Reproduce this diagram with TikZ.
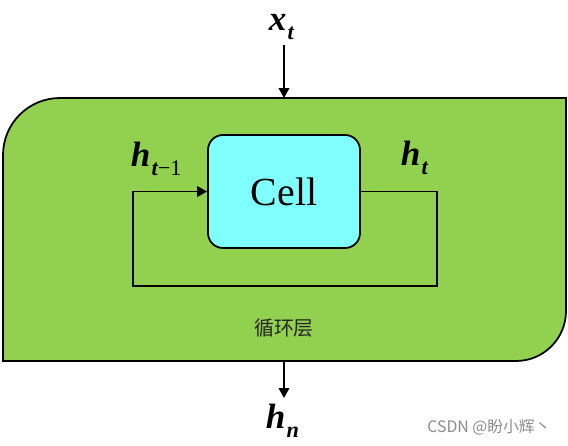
\documentclass[tikz,border=0pt]{standalone}
\usepackage{fontspec}
\setmainfont{Liberation Serif}
\newfontfamily\cjk{Noto Sans CJK SC}
\usetikzlibrary{arrows.meta}
\definecolor{layergreen}{HTML}{92D050}
\definecolor{cellcyan}{HTML}{80FFFF}
\newcommand{\vlab}[2]{{\fontsize{30}{30}\selectfont\bfseries\itshape #1}\hspace{1pt}\raisebox{-8pt}{\fontsize{19}{19}\selectfont #2}}
\begin{document}
\begin{tikzpicture}[x=0.03cm,y=-0.03cm,line width=1.5pt,
    every node/.style={inner sep=0pt},
    cell/.style={draw=black,fill=cellcyan,rounded corners=0.45cm,minimum width=4.56cm,minimum height=3.39cm,font=\fontsize{34}{34}\selectfont},
    flow/.style={-{Triangle[length=3mm,width=3.2mm]}}]
        \useasboundingbox (0,0) rectangle (568,445);
        % recurrent layer
        \draw[fill=layergreen] (3,155) .. controls (3,123.5) and (28.5,98) .. (60,98) -- (566,98) -- (566,311)
          .. controls (566,338.6) and (543.6,361) .. (516,361) -- (3,361) -- cycle;
        \coordinate (top) at (284,98);
        \coordinate (bot) at (284,361);
        \coordinate (xin) at (284,45);
        \coordinate (hout) at (284,398);
        \coordinate (c1) at (437,191.5);
        \coordinate (c2) at (437,286);
        \coordinate (c3) at (133,286);
        \coordinate (c4) at (133,191.5);
        \node[cell] (cell) at (284,191.5) {Cell};
        \node[anchor=base west] (xt) at (268,30) {\vlab{x}{\bfseries\itshape t}};
        \node[anchor=base west] (hprev) at (130,166) {\vlab{h}{\bfseries\itshape t\normalfont −1}};
        \node[anchor=base west] (ht) at (400,165) {\vlab{h}{\bfseries\itshape t}};
        \node[anchor=base west] (hn) at (265,428) {\vlab{h}{\bfseries\itshape n}};
        \node[font=\cjk\fontsize{17}{17}\selectfont,text=black!85] (name) at (284,328) {循环层};
        \node[font=\cjk\fontsize{13.5}{13.5}\selectfont,text=black!45] (mark) at (489,427) {CSDN @盼小辉丶};
        \draw[flow] (xin) -- (top);
        \draw[flow] (bot) -- (hout);
        \draw[flow] (cell.east) -- (c1) -- (c2) -- (c3) -- (c4) -- (cell.west);
\end{tikzpicture}
\end{document}
